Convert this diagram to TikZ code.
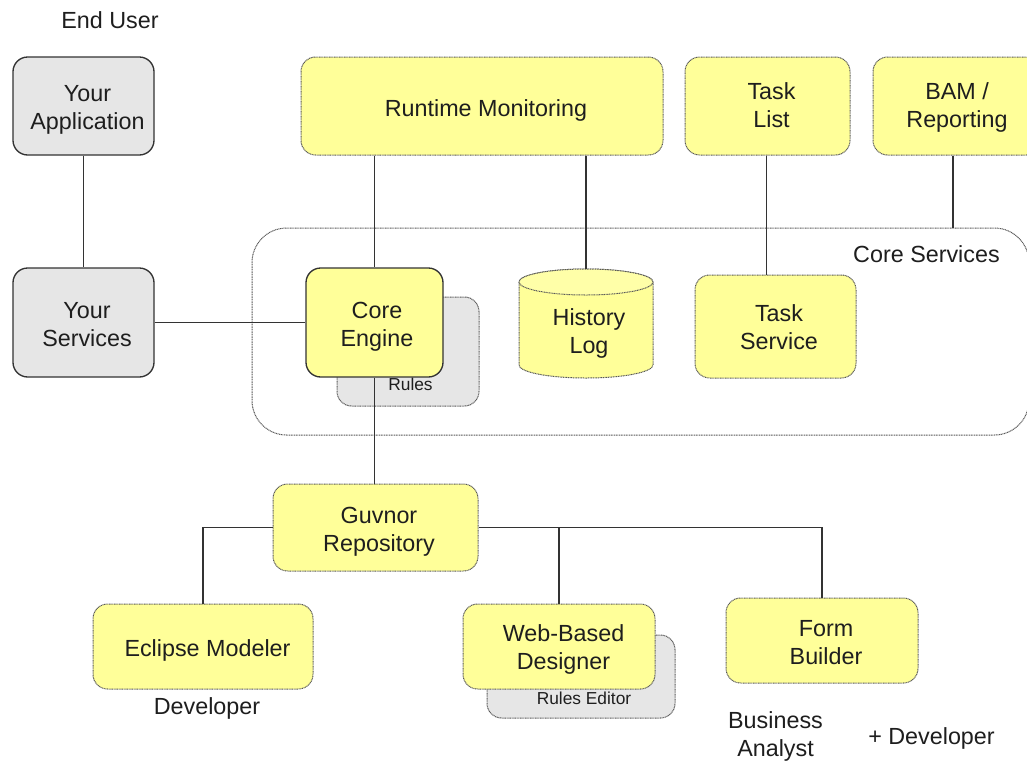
\documentclass[tikz,border=0pt]{standalone}
\usepackage{fontspec}
\setmainfont{Liberation Sans}
\definecolor{boxyellow}{HTML}{FFFF99}
\definecolor{boxgray}{HTML}{E6E6E6}
\definecolor{edgegray}{HTML}{585858}
\definecolor{inkdark}{HTML}{333333}
\definecolor{txtdark}{HTML}{1E1E1E}

\begin{document}
\begin{tikzpicture}[x=0.75pt,y=-0.75pt,
  every node/.style={text=txtdark, font=\fontsize{17.5}{21}\selectfont, align=center},
  % text boxes: height fixed to the cap height so the node centre sits on the letters
  oneline/.style={inner sep=0pt, text height=12.5pt, text depth=0pt},
  twoline/.style={inner sep=0pt, text height=33.5pt, text depth=0pt},
  small/.style={inner sep=0pt, font=\fontsize{13}{15.6}\selectfont, text height=9.3pt, text depth=0pt},
  dotedge/.style={draw=edgegray, line width=0.75pt, dash pattern=on 0.75pt off 0.5pt},
  ybox/.style={rectangle, rounded corners=11pt, fill=boxyellow, dotedge, inner sep=0pt},
  ysolid/.style={rectangle, rounded corners=11pt, fill=boxyellow, draw=inkdark, line width=1pt, inner sep=0pt},
  gbox/.style={rectangle, rounded corners=11pt, fill=boxgray, draw=inkdark, line width=1pt, inner sep=0pt},
  backbox/.style={rectangle, rounded corners=11pt, fill=boxgray, dotedge, inner sep=0pt},
  groupbox/.style={rectangle, rounded corners=26pt, dotedge, inner sep=0pt},
  link/.style={draw=inkdark, line width=1pt},
]
\fill[white] (0,0) rectangle (1027,761);
\useasboundingbox (0,0) rectangle (1027,761);
\begin{scope}
\clip (0,0) rectangle (1027,761);

% Core services group
\node[groupbox, minimum width=582.75pt, minimum height=155.25pt] (cs) at (640.5,331.5) {};
\node[oneline] (coresvc) at (926.5,254) {Core Services};

% Client side
\node[gbox, minimum width=105.75pt, minimum height=73.5pt] (app) at (83.5,106) {};
\node[twoline] (apptxt) at (87.5,107.5) {Your\\Application};
\node[gbox, minimum width=105.75pt, minimum height=81.75pt] (svc) at (83.5,322.5) {};
\node[twoline] (svctxt) at (87,324) {Your\\Services};

% Top row tools
\node[ybox, minimum width=271.5pt, minimum height=73.5pt] (rm) at (482,106) {};
\node[oneline] (rmtxt) at (486,108) {Runtime Monitoring};
\node[ybox, minimum width=123.75pt, minimum height=73.5pt] (tl) at (767.5,106) {};
\node[twoline] (tltxt) at (771.5,105) {Task\\List};
\node[ybox, minimum width=126pt, minimum height=73.5pt] (bam) at (957,106) {};
\node[twoline] (bamtxt) at (957,105) {BAM /\\Reporting};

% Engine with rules behind it
\node[backbox, minimum width=106.5pt, minimum height=81.75pt] (rules) at (408,351.5) {};
\node[small] (rulestxt) at (410.5,384) {Rules};
\node[ysolid, minimum width=102.75pt, minimum height=81.75pt] (eng) at (374.5,322.5) {};
\node[twoline] (engtxt) at (377,324) {Core\\Engine};

% History log cylinder
\path[fill=boxyellow, dotedge] (519,282) -- (519,365)
  arc[start angle=180, end angle=360, x radius=50.25pt, y radius=9.75pt]
  -- (653,282)
  arc[start angle=0, end angle=180, x radius=50.25pt, y radius=9.75pt] -- cycle;
\path[fill=boxyellow!85!white, dotedge] (586,282) ellipse [x radius=50.25pt, y radius=9.75pt];
\coordinate (hltop) at (586,269);
\node[twoline] (hltxt) at (589,331) {History\\Log};

\node[ybox, minimum width=120.75pt, minimum height=77.25pt] (ts) at (775.5,326.5) {};
\node[twoline] (tstxt) at (779,327.5) {Task\\Service};

% Repository and editors
\node[ybox, minimum width=153.75pt, minimum height=65.25pt] (guv) at (375.5,527.5) {};
\node[twoline] (guvtxt) at (379,529) {Guvnor\\Repository};
\node[ybox, minimum width=165pt, minimum height=63.75pt] (ecl) at (203,646.5) {};
\node[oneline] (ecltxt) at (207.5,648) {Eclipse Modeler};
\node[backbox, minimum width=141pt, minimum height=62.25pt] (red) at (581,676.5) {};
\node[small] (redtxt) at (584,698.5) {Rules Editor};
\node[ybox, minimum width=144pt, minimum height=63.75pt] (wbd) at (559,646.5) {};
\node[twoline] (wbdtxt) at (563.5,647) {Web-Based\\Designer};
\node[ybox, minimum width=144pt, minimum height=63.75pt] (fb) at (822,640.5) {};
\node[twoline] (fbtxt) at (826,642) {Form\\Builder};

% Roles
\node[oneline] (enduser) at (110,20) {End User};
\node[oneline] (dev1) at (207,706) {Developer};
\node[twoline] (ba) at (775.5,734.5) {Business\\Analyst};
\node[oneline] (dev2) at (931.5,736) {+ Developer};

% Connectors
\draw[link] (app) -- (svc);
\draw[link] (svc) -- (eng);
\draw[link] (rm.south -| eng.north) -- (eng.north);
\draw[link] (rm.south -| hltop) -- (hltop);
\draw[link] ([xshift=-1pt]tl.south) -- ([xshift=-1pt]tl.south |- ts.north);
\draw[link] ([xshift=-3pt]bam.south) -- ([xshift=-3pt]bam.south |- cs.north);
\draw[link] (eng.south) -- (guv.north -| eng.south);
\draw[link] (guv.west) -| (ecl.north);
\draw[link] (guv.east) -| (fb.north);
\draw[link] (wbd.north |- guv.east) -- (wbd.north);
\end{scope}
\end{tikzpicture}
\end{document}
